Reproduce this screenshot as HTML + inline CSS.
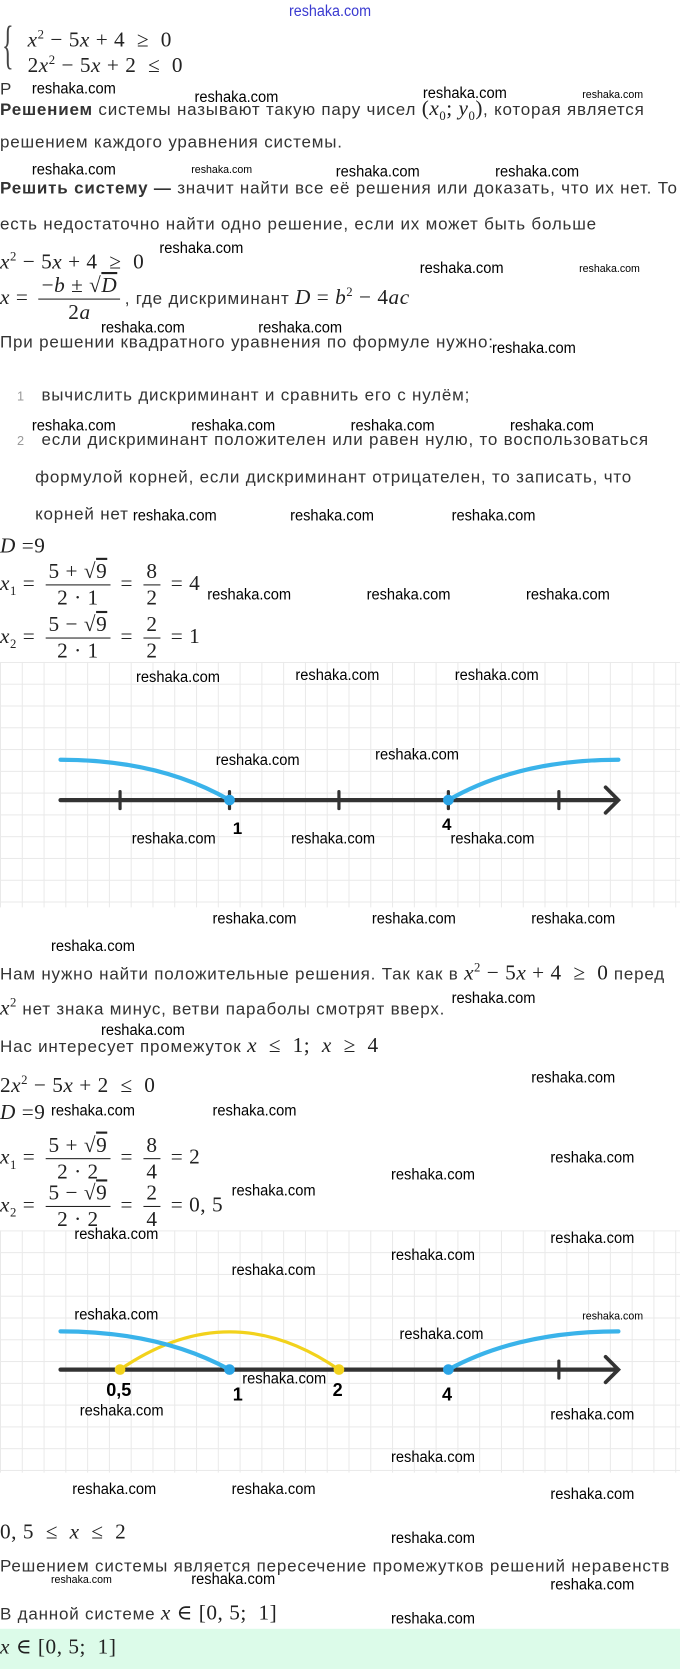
<!DOCTYPE html>
<html><head><meta charset="utf-8"><style>
html,body{margin:0;padding:0;background:#fff;}
body{width:680px;height:1669px;overflow:hidden;position:relative;}
#c{position:absolute;left:0;top:0;width:640px;height:1571px;transform:scale(1.0625);transform-origin:0 0;}
.a{position:absolute;white-space:nowrap;}
.t{font-family:"Liberation Sans","DejaVu Sans",sans-serif;font-size:16px;letter-spacing:0.75px;color:#333;line-height:18px;}
.m{font-family:"Liberation Serif","DejaVu Serif",serif;font-size:20px;letter-spacing:0.5px;color:#222;line-height:20px;}
.m i{font-style:italic;}
.w{font-family:"Liberation Sans",sans-serif;font-size:15px;letter-spacing:0;color:#000;transform:scaleX(0.92);transform-origin:0 50%;line-height:16px;}
.ws{font-family:"Liberation Sans",sans-serif;font-size:10px;color:#000;line-height:12px;}
.fr{display:inline-flex;flex-direction:column;align-items:center;vertical-align:middle;margin:0 4px;}
.fr .n{border-bottom:1px solid #222;padding:0 3px;line-height:24px;}
.fr .d{line-height:24px;}
.grid{position:absolute;left:0;width:640px;background-color:#fff;
background-image:linear-gradient(#e9e9e9 1px,transparent 1px),linear-gradient(90deg,#e9e9e9 1px,transparent 1px);
background-size:20.5px 20.5px;}
.num{color:#999;font-size:12px;}
sup,sub{font-size:12px;}
</style></head><body><div id="c">

<div class="a" style="left:272px;top:2px;font-family:'Liberation Sans',sans-serif;font-size:15px;color:#3a3ad0;transform:scaleX(0.9);transform-origin:0 0;">reshaka.com</div>

<div class="a m" style="left:2px;top:14px;font-size:50px;line-height:56px;font-weight:100;color:#444;transform:scaleX(0.45);transform-origin:0 0;">{</div>
<div class="a m" style="left:26px;top:22px;"><i>x</i><sup>2</sup> − 5<i>x</i> + 4 &nbsp;≥ &nbsp;0</div>
<div class="a m" style="left:26px;top:46px;">2<i>x</i><sup>2</sup> − 5<i>x</i> + 2 &nbsp;≤ &nbsp;0</div>

<div class="a t" style="left:0;top:76px;">Р</div>
<div class="a t" style="left:0;top:92px;"><b>Решением</b> системы называют такую пару чисел <span class="m">(<i>x</i><sub>0</sub>; <i>y</i><sub>0</sub>)</span>, которая является</div>
<div class="a t" style="left:0;top:126px;">решением каждого уравнения системы.</div>
<div class="a t" style="left:0;top:169px;"><b>Решить систему —</b> значит найти все её решения или доказать, что их нет. То</div>
<div class="a t" style="left:0;top:203px;">есть недостаточно найти одно решение, если их может быть больше</div>
<div class="a m" style="left:0;top:231px;"><i>x</i><sup>2</sup> − 5<i>x</i> + 4 &nbsp;≥ &nbsp;0</div>
<div class="a m" style="left:0;top:257px;"><i>x</i> = <span class="fr"><span class="n">−<i>b</i> ± √<span style="text-decoration:overline"><i>D</i></span></span><span class="d">2<i>a</i></span></span><span class="t">, где дискриминант </span><i>D</i> = <i>b</i><sup>2</sup> − 4<i>ac</i></div>
<div class="a t" style="left:0;top:314px;">При решении квадратного уравнения по формуле нужно:</div>
<div class="a t" style="left:16px;top:364px;"><span class="num">1</span>&nbsp;&nbsp; вычислить дискриминант и сравнить его с нулём;</div>
<div class="a t" style="left:16px;top:406px;"><span class="num">2</span>&nbsp;&nbsp; если дискриминант положителен или равен нулю, то воспользоваться</div>
<div class="a t" style="left:33px;top:441px;">формулой корней, если дискриминант отрицателен, то записать, что</div>
<div class="a t" style="left:33px;top:476px;">корней нет</div>
<div class="a m" style="left:0;top:504px;"><i>D</i> =9</div>
<div class="a m" style="left:0;top:526px;"><i>x</i><sub>1</sub> = <span class="fr"><span class="n">5 + √<span style="text-decoration:overline">9</span></span><span class="d">2 · 1</span></span> = <span class="fr"><span class="n">8</span><span class="d">2</span></span> = 4</div>
<div class="a m" style="left:0;top:576px;"><i>x</i><sub>2</sub> = <span class="fr"><span class="n">5 − √<span style="text-decoration:overline">9</span></span><span class="d">2 · 1</span></span> = <span class="fr"><span class="n">2</span><span class="d">2</span></span> = 1</div>

<div class="grid" style="top:623px;height:231px;"></div>
<svg class="a" style="left:0;top:623px" width="640" height="231">
<g stroke="#333" stroke-width="4" fill="none" stroke-linecap="round">
<line x1="57" y1="130" x2="580" y2="130"/>
<polyline points="570,118 582,130 570,142" stroke-width="3.5"/>
<line x1="113" y1="122" x2="113" y2="138" stroke-width="3"/>
<line x1="216" y1="122" x2="216" y2="138" stroke-width="3"/>
<line x1="319" y1="122" x2="319" y2="138" stroke-width="3"/>
<line x1="422" y1="122" x2="422" y2="138" stroke-width="3"/>
<line x1="526" y1="122" x2="526" y2="138" stroke-width="3"/>
</g>
<g stroke="#3ab3ea" stroke-width="4" fill="none" stroke-linecap="round">
<path d="M57,92 Q150,92 216,130"/>
<path d="M422,130 Q488,92 582,92"/>
</g>
<circle cx="216" cy="130" r="5" fill="#2aa4e6"/><circle cx="422" cy="130" r="5" fill="#2aa4e6"/>
<text x="219" y="162" font-family="Liberation Sans" font-weight="bold" font-size="16">1</text>
<text x="416" y="158" font-family="Liberation Sans" font-weight="bold" font-size="16">4</text>
</svg>

<div class="a t" style="left:0;top:900px;">Нам нужно найти положительные решения. Так как в <span class="m"><i>x</i><sup>2</sup> − 5<i>x</i> + 4 &nbsp;≥ &nbsp;0</span> перед</div>
<div class="a t" style="left:0;top:933px;"><span class="m"><i>x</i><sup>2</sup></span> нет знака минус, ветви параболы смотрят вверх.</div>
<div class="a t" style="left:0;top:974px;">Нас интересует промежуток <span class="m"><i>x</i> &nbsp;≤ &nbsp;1; &nbsp;<i>x</i> &nbsp;≥ &nbsp;4</span></div>
<div class="a m" style="left:0;top:1006px;">2<i>x</i><sup>2</sup> − 5<i>x</i> + 2 &nbsp;≤ &nbsp;0</div>
<div class="a m" style="left:0;top:1037px;"><i>D</i> =9</div>
<div class="a m" style="left:0;top:1066px;"><i>x</i><sub>1</sub> = <span class="fr"><span class="n">5 + √<span style="text-decoration:overline">9</span></span><span class="d">2 · 2</span></span> = <span class="fr"><span class="n">8</span><span class="d">4</span></span> = 2</div>
<div class="a m" style="left:0;top:1111px;"><i>x</i><sub>2</sub> = <span class="fr"><span class="n">5 − √<span style="text-decoration:overline">9</span></span><span class="d">2 · 2</span></span> = <span class="fr"><span class="n">2</span><span class="d">4</span></span> = 0, 5</div>

<div class="grid" style="top:1158px;height:228px;"></div>
<svg class="a" style="left:0;top:1158px" width="640" height="228">
<g stroke="#333" stroke-width="4" fill="none" stroke-linecap="round">
<line x1="57" y1="131" x2="580" y2="131"/>
<polyline points="570,119 582,131 570,143" stroke-width="3.5"/>
<line x1="526" y1="123" x2="526" y2="139" stroke-width="3"/>
</g>
<path d="M113,131 Q216,60 319,131" stroke="#f2d21c" stroke-width="3" fill="none"/>
<g stroke="#3ab3ea" stroke-width="4" fill="none" stroke-linecap="round">
<path d="M57,95 Q150,95 216,131"/>
<path d="M422,131 Q488,95 582,95"/>
</g>
<circle cx="113" cy="131" r="5" fill="#f2d21c"/><circle cx="319" cy="131" r="5" fill="#f2d21c"/>
<circle cx="216" cy="131" r="5" fill="#2aa4e6"/><circle cx="422" cy="131" r="5" fill="#2aa4e6"/>
<g font-family="Liberation Sans" font-weight="bold" font-size="17">
<text x="100" y="156">0,5</text><text x="219" y="160">1</text><text x="313" y="156">2</text><text x="416" y="160">4</text>
</g>
</svg>

<div class="a m" style="left:0;top:1432px;">0, 5 &nbsp;≤ &nbsp;<i>x</i> &nbsp;≤ &nbsp;2</div>
<div class="a t" style="left:0;top:1466px;">Решением системы является пересечение промежутков решений неравенств</div>
<div class="a t" style="left:0;top:1508px;">В данной системе <span class="m"><i>x</i> ∈ [0, 5; &nbsp;1]</span></div>
<div class="a" style="left:0;top:1533px;width:640px;height:38px;background:#dcfbe9;"></div>
<div class="a m" style="left:0;top:1540px;"><i>x</i> ∈ [0, 5; &nbsp;1]</div>

<!-- watermarks -->
<div class="a w" style="left:30px;top:76px">reshaka.com</div>
<div class="a w" style="left:183px;top:84px">reshaka.com</div>
<div class="a w" style="left:398px;top:80px">reshaka.com</div>
<div class="a ws" style="left:548px;top:84px">reshaka.com</div>
<div class="a w" style="left:30px;top:152px">reshaka.com</div>
<div class="a ws" style="left:180px;top:155px">reshaka.com</div>
<div class="a w" style="left:316px;top:154px">reshaka.com</div>
<div class="a w" style="left:466px;top:154px">reshaka.com</div>
<div class="a w" style="left:150px;top:226px">reshaka.com</div>
<div class="a w" style="left:395px;top:245px">reshaka.com</div>
<div class="a ws" style="left:545px;top:248px">reshaka.com</div>
<div class="a w" style="left:95px;top:301px">reshaka.com</div>
<div class="a w" style="left:243px;top:301px">reshaka.com</div>
<div class="a w" style="left:463px;top:320px">reshaka.com</div>
<div class="a w" style="left:30px;top:393px">reshaka.com</div>
<div class="a w" style="left:180px;top:393px">reshaka.com</div>
<div class="a w" style="left:330px;top:393px">reshaka.com</div>
<div class="a w" style="left:480px;top:393px">reshaka.com</div>
<div class="a w" style="left:125px;top:478px">reshaka.com</div>
<div class="a w" style="left:273px;top:478px">reshaka.com</div>
<div class="a w" style="left:425px;top:478px">reshaka.com</div>
<div class="a w" style="left:195px;top:552px">reshaka.com</div>
<div class="a w" style="left:345px;top:552px">reshaka.com</div>
<div class="a w" style="left:495px;top:552px">reshaka.com</div>
<div class="a w" style="left:128px;top:630px">reshaka.com</div>
<div class="a w" style="left:278px;top:628px">reshaka.com</div>
<div class="a w" style="left:428px;top:628px">reshaka.com</div>
<div class="a w" style="left:203px;top:708px">reshaka.com</div>
<div class="a w" style="left:353px;top:703px">reshaka.com</div>
<div class="a w" style="left:124px;top:782px">reshaka.com</div>
<div class="a w" style="left:274px;top:782px">reshaka.com</div>
<div class="a w" style="left:424px;top:782px">reshaka.com</div>
<div class="a w" style="left:200px;top:857px">reshaka.com</div>
<div class="a w" style="left:350px;top:857px">reshaka.com</div>
<div class="a w" style="left:500px;top:857px">reshaka.com</div>
<div class="a w" style="left:48px;top:883px">reshaka.com</div>
<div class="a w" style="left:425px;top:932px">reshaka.com</div>
<div class="a w" style="left:95px;top:962px">reshaka.com</div>
<div class="a w" style="left:500px;top:1007px">reshaka.com</div>
<div class="a w" style="left:48px;top:1038px">reshaka.com</div>
<div class="a w" style="left:200px;top:1038px">reshaka.com</div>
<div class="a w" style="left:518px;top:1082px">reshaka.com</div>
<div class="a w" style="left:368px;top:1098px">reshaka.com</div>
<div class="a w" style="left:218px;top:1113px">reshaka.com</div>
<div class="a w" style="left:70px;top:1154px">reshaka.com</div>
<div class="a w" style="left:518px;top:1158px">reshaka.com</div>
<div class="a w" style="left:368px;top:1174px">reshaka.com</div>
<div class="a w" style="left:218px;top:1188px">reshaka.com</div>
<div class="a w" style="left:70px;top:1230px">reshaka.com</div>
<div class="a ws" style="left:548px;top:1234px">reshaka.com</div>
<div class="a w" style="left:376px;top:1248px">reshaka.com</div>
<div class="a w" style="left:228px;top:1290px">reshaka.com</div>
<div class="a w" style="left:75px;top:1320px">reshaka.com</div>
<div class="a w" style="left:518px;top:1324px">reshaka.com</div>
<div class="a w" style="left:368px;top:1364px">reshaka.com</div>
<div class="a w" style="left:68px;top:1394px">reshaka.com</div>
<div class="a w" style="left:218px;top:1394px">reshaka.com</div>
<div class="a w" style="left:518px;top:1399px">reshaka.com</div>
<div class="a w" style="left:368px;top:1440px">reshaka.com</div>
<div class="a ws" style="left:48px;top:1482px">reshaka.com</div>
<div class="a w" style="left:180px;top:1479px">reshaka.com</div>
<div class="a w" style="left:518px;top:1484px">reshaka.com</div>
<div class="a w" style="left:368px;top:1516px">reshaka.com</div>

</div></body></html>
